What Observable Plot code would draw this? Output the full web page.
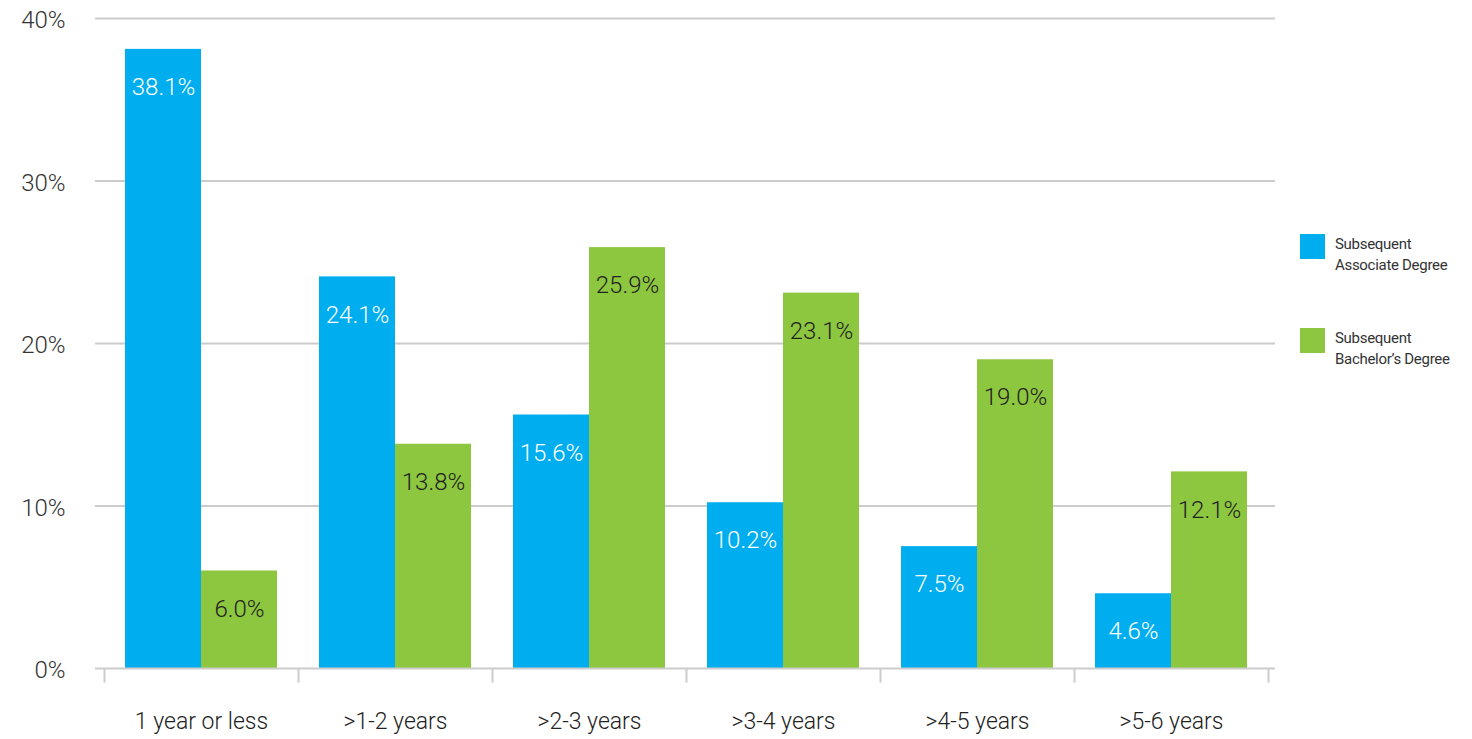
<!DOCTYPE html>
<html>
<head>
<meta charset="utf-8">
<script src="https://cdn.jsdelivr.net/npm/d3@7"></script>
<script src="https://cdn.jsdelivr.net/npm/@observablehq/plot@0.6"></script>
<style>
  body { margin: 0; background: #fff; }
  #wrap { position: relative; width: 1472px; height: 739px; }
  .leg { position: absolute; left: 1300px; font: 15px "Roboto", sans-serif; color: #333; letter-spacing: -0.3px; }
  .leg span.sw { position: absolute; left: 0; top: 0; width: 25px; height: 25px; }
  .leg div { margin-left: 35px; line-height: 21px; }
</style>
</head>
<body>
<div id="wrap">
  <div id="chart"></div>
  <div class="leg" style="top:234px"><span class="sw" style="background:#00aeef"></span><div>Subsequent<br>Associate Degree</div></div>
  <div class="leg" style="top:328px"><span class="sw" style="background:#8dc63f"></span><div>Subsequent<br>Bachelor’s Degree</div></div>
</div>
<script>
const categories = ["1 year or less", ">1-2 years", ">2-3 years", ">3-4 years", ">4-5 years", ">5-6 years"]
const associate = [38.1, 24.1, 15.6, 10.2, 7.5, 4.6]
const bachelor = [6.0, 13.8, 25.9, 23.1, 19.0, 12.1]
const yTicks = [0, 10, 20, 30, 40]

const assocData = categories.map((c, i) => ({cat: c, v: associate[i]}))
const bachData = categories.map((c, i) => ({cat: c, v: bachelor[i]}))

const plot = Plot.plot({
  width: 1472,
  height: 739,
  marginLeft: 102,
  marginRight: 202,
  marginTop: 18,
  marginBottom: 71,
  style: {fontFamily: "Roboto, sans-serif", fontSize: "22px", color: "#333"},
  x: {domain: categories, padding: 0, label: null},
  y: {domain: [0, 40], label: null},
  marks: [
    Plot.ruleY(yTicks.slice(1), {stroke: "#ccc", strokeWidth: 2, insetLeft: -7, insetRight: -5}),
    Plot.axisY({ticks: yTicks, tickFormat: d => d + "%", tickSize: 0, tickPadding: 14, dx: -23, dy: 2, label: null, fontWeight: 300, fontSize: 24, fill: "#333"}),
    Plot.axisX({tickSize: 0, tickPadding: 44, label: null, fontWeight: 300, fontSize: 23, fill: "#222"}),
    Plot.barY(assocData, {x: "cat", y: "v", fill: "#00aeef", insetLeft: 21, insetRight: 97}),
    Plot.barY(bachData, {x: "cat", y: "v", fill: "#8dc63f", insetLeft: 97, insetRight: 21}),
    Plot.ruleY([0], {stroke: "#ccc", strokeWidth: 2, insetLeft: -7, insetRight: -5}),
    Plot.ruleX(categories, {x: d => d, y1: 0, y2: -0.9, dx: -97, stroke: "#ccc", strokeWidth: 2}),
    Plot.ruleX([categories[5]], {x: d => d, y1: 0, y2: -0.9, dx: 97, stroke: "#ccc", strokeWidth: 2}),
    Plot.text(assocData, {x: "cat", y: "v", text: d => d.v.toFixed(1) + "%", dx: -38, dy: 38, fill: "#fff", fontSize: 24, fontWeight: 300, letterSpacing: -1}),
    Plot.text(bachData, {x: "cat", y: "v", text: d => d.v.toFixed(1) + "%", dx: 38, dy: 38, fill: "#222", fontSize: 24, fontWeight: 300})
  ]
})
document.querySelector("#chart").append(plot)
</script>
</body>
</html>
